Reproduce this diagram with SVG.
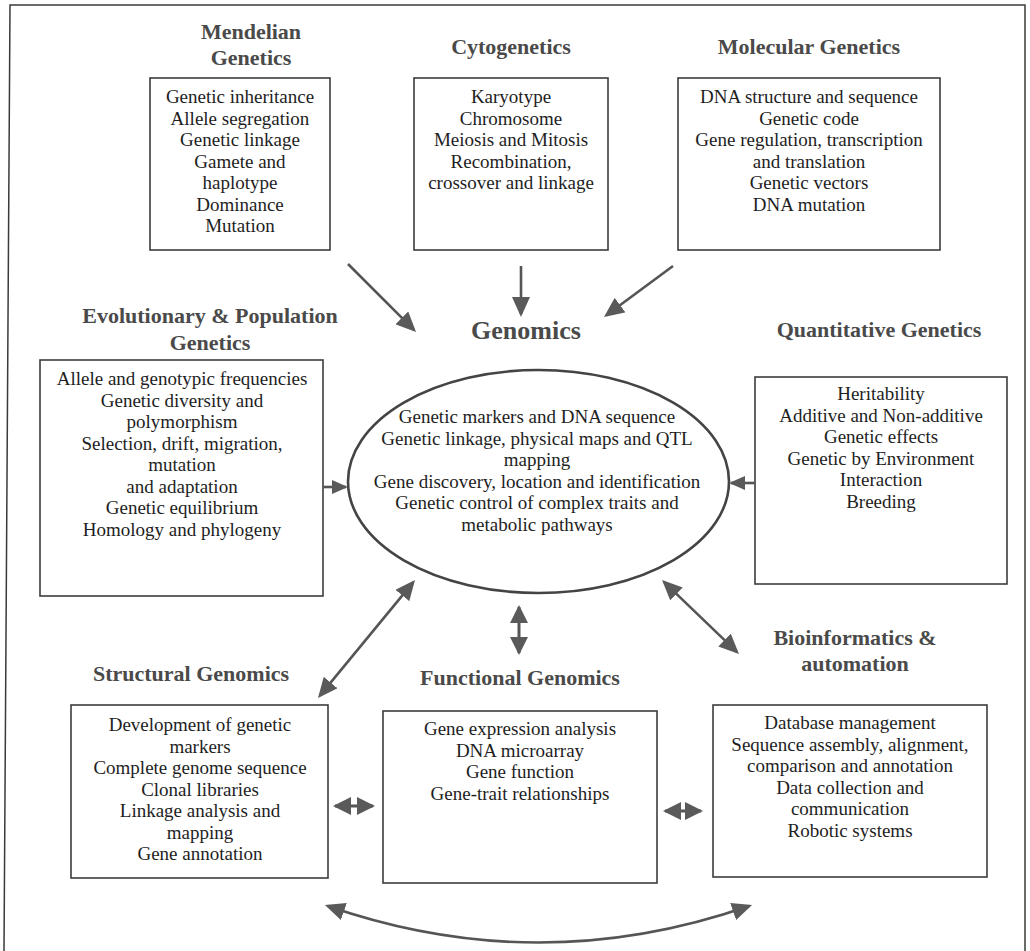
<svg xmlns="http://www.w3.org/2000/svg" width="1030" height="951" viewBox="0 0 1030 951">
  <style>
    .frame { fill: none; stroke: #3a3a3a; stroke-width: 1.5; }
    .box { fill: #ffffff; stroke: #3c3c3c; stroke-width: 1.6; }
    .oval { fill: #ffffff; stroke: #444444; stroke-width: 2.6; }
    .title { font-family: "Liberation Serif", "Times New Roman", serif; font-weight: bold; font-size: 22px; fill: #4a4a4a; text-anchor: middle; }
    .big { font-family: "Liberation Serif", "Times New Roman", serif; font-weight: bold; font-size: 26px; fill: #4a4a4a; text-anchor: middle; }
    .body { font-family: "Liberation Serif", "Times New Roman", serif; font-size: 19px; fill: #1e1e1e; text-anchor: middle; }
    .link { fill: none; stroke: #555555; stroke-width: 2.6; }
    .link-thin { fill: none; stroke: #555555; stroke-width: 3; }
  </style>
  <defs>
    <marker id="head" viewBox="0 0 20 18" refX="17" refY="9" markerWidth="20" markerHeight="18" markerUnits="userSpaceOnUse" orient="auto-start-reverse">
      <path d="M0,0 L20,9 L0,18 Z" fill="#5a5a5a"/>
    </marker>
    <marker id="head-s" viewBox="0 0 16 14" refX="14" refY="7" markerWidth="16" markerHeight="14" markerUnits="userSpaceOnUse" orient="auto-start-reverse">
      <path d="M0,0 L16,7 L0,14 Z" fill="#5a5a5a"/>
    </marker>
    <marker id="head-b" viewBox="0 0 18 18" refX="16" refY="9" markerWidth="18" markerHeight="18" markerUnits="userSpaceOnUse" orient="auto-start-reverse">
      <path d="M0,0 L18,9 L0,18 Z" fill="#5a5a5a"/>
    </marker>
  </defs>

  <rect width="1030" height="951" fill="#ffffff"/>

  <!-- outer frame, open at the bottom -->
  <path class="frame" d="M4,951 L10,5 L1025,5 L1025,951"/>

  <g id="mendelian">
    <text class="title" x="251" y="39">Mendelian</text>
    <text class="title" x="251" y="65">Genetics</text>
    <rect class="box" x="150" y="78" width="180" height="172"/>
    <text class="body" x="240" y="103">Genetic inheritance</text>
    <text class="body" x="240" y="124.5">Allele segregation</text>
    <text class="body" x="240" y="146">Genetic linkage</text>
    <text class="body" x="240" y="167.5">Gamete and</text>
    <text class="body" x="240" y="189">haplotype</text>
    <text class="body" x="240" y="210.5">Dominance</text>
    <text class="body" x="240" y="232">Mutation</text>
  </g>

  <g id="cytogenetics">
    <text class="title" x="511" y="54">Cytogenetics</text>
    <rect class="box" x="414" y="78" width="194" height="172"/>
    <text class="body" x="511" y="103">Karyotype</text>
    <text class="body" x="511" y="124.5">Chromosome</text>
    <text class="body" x="511" y="146">Meiosis and Mitosis</text>
    <text class="body" x="511" y="167.5">Recombination,</text>
    <text class="body" x="511" y="189">crossover and linkage</text>
  </g>

  <g id="molecular">
    <text class="title" x="809" y="54">Molecular Genetics</text>
    <rect class="box" x="678" y="78" width="262" height="172"/>
    <text class="body" x="809" y="103">DNA structure and sequence</text>
    <text class="body" x="809" y="124.5">Genetic code</text>
    <text class="body" x="809" y="146">Gene regulation, transcription</text>
    <text class="body" x="809" y="167.5">and translation</text>
    <text class="body" x="809" y="189">Genetic vectors</text>
    <text class="body" x="809" y="210.5">DNA mutation</text>
  </g>

  <g id="evolutionary">
    <text class="title" x="210" y="323">Evolutionary &amp; Population</text>
    <text class="title" x="210" y="350">Genetics</text>
    <rect class="box" x="40" y="360" width="283" height="236"/>
    <text class="body" x="182" y="385">Allele and genotypic frequencies</text>
    <text class="body" x="182" y="406.5">Genetic diversity and</text>
    <text class="body" x="182" y="428">polymorphism</text>
    <text class="body" x="182" y="449.5">Selection, drift, migration,</text>
    <text class="body" x="182" y="471">mutation</text>
    <text class="body" x="182" y="492.5">and adaptation</text>
    <text class="body" x="182" y="514">Genetic equilibrium</text>
    <text class="body" x="182" y="535.5">Homology and phylogeny</text>
  </g>

  <g id="genomics">
    <text class="big" x="526" y="339">Genomics</text>
    <ellipse class="oval" cx="538.5" cy="481.5" rx="190.5" ry="111.5"/>
    <text class="body" x="537" y="423">Genetic markers and DNA sequence</text>
    <text class="body" x="537" y="444.5">Genetic linkage, physical maps and QTL</text>
    <text class="body" x="537" y="466">mapping</text>
    <text class="body" x="537" y="487.5">Gene discovery, location and identification</text>
    <text class="body" x="537" y="509">Genetic control of complex traits and</text>
    <text class="body" x="537" y="530.5">metabolic pathways</text>
  </g>

  <g id="quantitative">
    <text class="title" x="879" y="337">Quantitative Genetics</text>
    <rect class="box" x="755" y="377" width="252" height="207"/>
    <text class="body" x="881" y="400">Heritability</text>
    <text class="body" x="881" y="421.5">Additive and Non-additive</text>
    <text class="body" x="881" y="443">Genetic effects</text>
    <text class="body" x="881" y="464.5">Genetic by Environment</text>
    <text class="body" x="881" y="486">Interaction</text>
    <text class="body" x="881" y="507.5">Breeding</text>
  </g>

  <g id="structural">
    <text class="title" x="191" y="681">Structural Genomics</text>
    <rect class="box" x="71" y="705" width="257" height="173"/>
    <text class="body" x="200" y="731">Development of genetic</text>
    <text class="body" x="200" y="752.5">markers</text>
    <text class="body" x="200" y="774">Complete genome sequence</text>
    <text class="body" x="200" y="795.5">Clonal libraries</text>
    <text class="body" x="200" y="817">Linkage analysis and</text>
    <text class="body" x="200" y="838.5">mapping</text>
    <text class="body" x="200" y="860">Gene annotation</text>
  </g>

  <g id="functional">
    <text class="title" x="520" y="685">Functional Genomics</text>
    <rect class="box" x="383" y="711" width="274" height="172"/>
    <text class="body" x="520" y="735">Gene expression analysis</text>
    <text class="body" x="520" y="756.5">DNA microarray</text>
    <text class="body" x="520" y="778">Gene function</text>
    <text class="body" x="520" y="799.5">Gene-trait relationships</text>
  </g>

  <g id="bioinformatics">
    <text class="title" x="855" y="645">Bioinformatics &amp;</text>
    <text class="title" x="855" y="671">automation</text>
    <rect class="box" x="713" y="705" width="274" height="172"/>
    <text class="body" x="850" y="729">Database management</text>
    <text class="body" x="850" y="750.5">Sequence assembly, alignment,</text>
    <text class="body" x="850" y="772">comparison and annotation</text>
    <text class="body" x="850" y="793.5">Data collection and</text>
    <text class="body" x="850" y="815">communication</text>
    <text class="body" x="850" y="836.5">Robotic systems</text>
  </g>

  <g id="connectors">
    <!-- classical disciplines feeding into genomics -->
    <line class="link" x1="348" y1="264" x2="413.9" y2="329.9" marker-end="url(#head)"/>
    <line class="link" x1="521" y1="266" x2="521" y2="314" marker-end="url(#head)"/>
    <line class="link" x1="673" y1="266" x2="606.4" y2="315.2" marker-end="url(#head)"/>
    <line class="link" x1="323" y1="487" x2="346" y2="487" marker-end="url(#head-s)"/>
    <line class="link" x1="755" y1="483" x2="731" y2="483" marker-end="url(#head-s)"/>
    <!-- genomics and its branches -->
    <line class="link" x1="319.9" y1="695.7" x2="413.1" y2="582.3" marker-start="url(#head)" marker-end="url(#head)"/>
    <line class="link-thin" x1="519" y1="607" x2="519" y2="653" marker-start="url(#head-b)" marker-end="url(#head-b)"/>
    <line class="link" x1="664.2" y1="582.1" x2="736.8" y2="651.9" marker-start="url(#head)" marker-end="url(#head)"/>
    <!-- links between the branches -->
    <line class="link-thin" x1="335" y1="806" x2="373" y2="806" marker-start="url(#head-b)" marker-end="url(#head-b)"/>
    <line class="link-thin" x1="665" y1="811" x2="701" y2="811" marker-start="url(#head-b)" marker-end="url(#head-b)"/>
    <path class="link" d="M327.8,906 Q538.5,979 749.2,906" marker-start="url(#head)" marker-end="url(#head)"/>
  </g>
</svg>
